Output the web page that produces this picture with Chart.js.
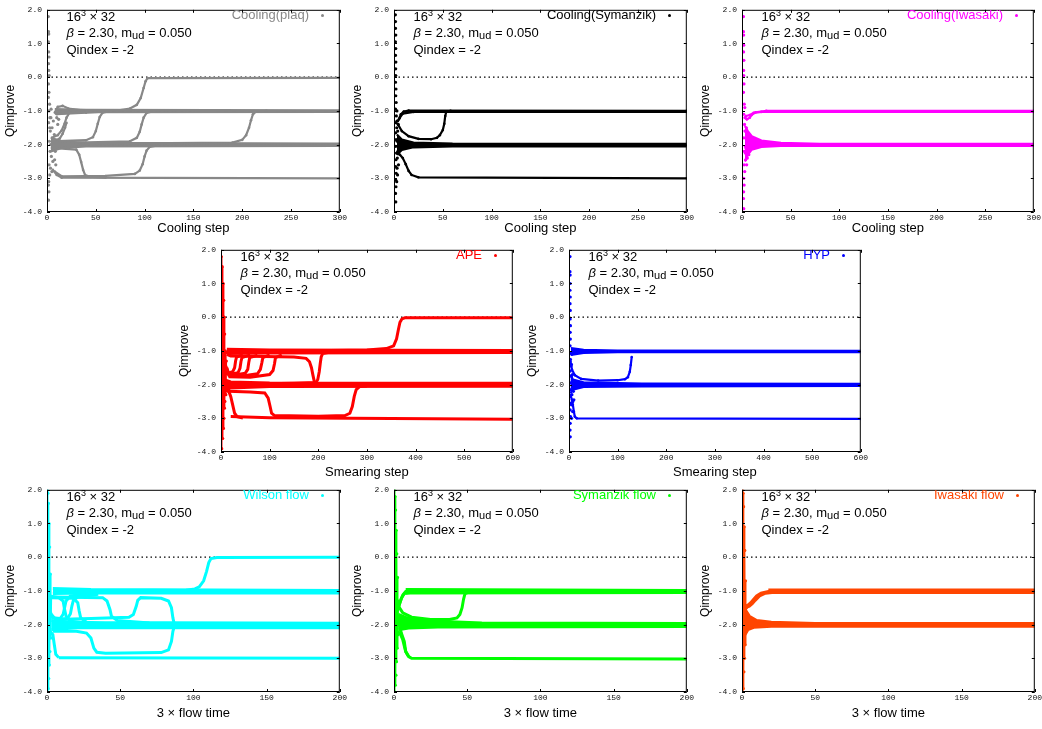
<!DOCTYPE html>
<html>
<head>
<meta charset="utf-8">
<script src="https://cdn.jsdelivr.net/npm/chart.js@4.4.1/dist/chart.umd.min.js"></script>
<style>
body { margin: 0; background: #fff; }
#page { position: relative; width: 1042px; height: 729px; overflow: hidden; font-family: "Liberation Sans", Arial, sans-serif; }
canvas { position: absolute; }
.note { position: absolute; font-size: 13px; line-height: 16.5px; color: #000; white-space: nowrap; }
.note sup { font-size: 9px; line-height: 0; vertical-align: 5px; }
.note sub { font-size: 11px; line-height: 0; vertical-align: -2px; }
.key { position: absolute; font-size: 13px; line-height: 16px; white-space: nowrap; text-align: right; }
.dot { position: absolute; width: 3px; height: 3px; border-radius: 50%; }
</style>
</head>
<body>
<div id="page"></div>
<script>
// tick labels
const yTicks = [-4, -3, -2, -1, 0, 1, 2];
const coolingXTicks = [0, 50, 100, 150, 200, 250, 300];
const smearXTicks = [0, 100, 200, 300, 400, 500, 600];
const flowXTicks = [0, 50, 100, 150, 200];

// Cooling(plaq)
const plaqSpike = [[1.4,1.8],[1.6,1.35],[1.8,1.28],[1.5,1.05],[1.7,0.75],[2.0,0.6],[1.6,0.4],[1.8,0.2],[2.2,0.05],[1.5,-0.2],[2.0,-0.45],[1.4,-0.6],[2.6,-0.8],[2.0,-1.0],[3.0,-1.2],[1.7,-1.35],[3.4,-1.6],[4.0,-1.2],[5.2,-1.5],[6.5,-1.3],[7.5,-1.7],[2.4,-1.9],[3.2,-2.2],[4.5,-2.35],[6.0,-2.5],[7.8,-2.45],[3.6,-2.7],[2.1,-2.6],[2.8,-2.9],[1.8,-3.1],[1.5,-3.2],[2.0,-3.4],[1.6,-3.65],[9.0,-2.6],[10,-1.2],[11,-1.4],[5.0,-2.8],[8.5,-2.2],[12,-1.25],[4.2,-0.95],[2.8,-1.5],[3.8,-2.0]];
const plaqBands = [
  [[[4,-1.8],[15,-1.9],[40,-1.95],[300,-1.97]], [[4,-2.2],[15,-2.1],[40,-2.05],[300,-2.04]]],
  [[[8,-0.95],[40,-0.97],[300,-0.98]], [[8,-1.08],[40,-1.04],[300,-1.03]]]
];
const plaqPaths = [
  [[6,-2.75],[10,-2.9],[15,-2.98],[300,-3.0]],
  [[8,-1.05],[11,-0.88],[16,-0.85],[22,-0.93],[40,-1.0]],
  [[10,-1.1],[40,-1.05],[70,-1.0],[85,-0.93],[92,-0.82],[96,-0.62],[99,-0.32],[101,-0.12],[103,-0.03],[300,-0.02]],
  [[5,-1.9],[40,-1.87],[47,-1.78],[50,-1.6],[52,-1.38],[54,-1.18],[57,-1.05],[65,-1.0]],
  [[20,-1.95],[85,-1.9],[92,-1.8],[95,-1.62],[97,-1.4],[99,-1.2],[102,-1.06],[110,-1.0]],
  [[30,-1.98],[190,-1.94],[200,-1.86],[204,-1.72],[207,-1.5],[209,-1.28],[211,-1.1],[214,-1.02],[225,-1.0]],
  [[5,-2.1],[30,-2.15],[33,-2.3],[35,-2.52],[37,-2.75],[39,-2.9],[45,-2.96],[60,-2.98]],
  [[8,-2.8],[15,-2.94],[60,-2.93],[90,-2.87],[95,-2.77],[98,-2.58],[100,-2.35],[102,-2.18],[105,-2.07],[115,-2.02]],
  [[5,-1.8],[11,-1.72],[15,-1.58],[18,-1.38],[20,-1.2],[23,-1.05]],
  [[7,-1.9],[13,-1.82],[16,-1.68],[18.5,-1.5],[20,-1.35]]
];

// Cooling(Symanzik)
const symSpike = [[1.4,1.85],[1.5,1.65],[1.6,1.45],[1.8,1.25],[1.5,1.05],[1.8,0.85],[1.6,0.65],[1.9,0.45],[1.7,0.25],[1.8,0.05],[1.6,-0.15],[2.0,-0.35],[1.8,-0.55],[2.2,-0.75],[1.6,-0.95],[2.4,-1.15],[2.0,-1.35],[2.8,-1.5],[1.7,-1.65],[2.2,-1.85],[1.8,-2.05],[2.6,-2.25],[2.0,-2.45],[1.7,-2.65],[2.2,-2.85],[1.8,-3.05],[2.0,-3.25],[1.6,-3.45],[1.8,-3.7],[3.0,-1.3],[3.4,-2.4],[3.8,-1.6],[3.1,-2.7],[4.0,-2.2],[3.0,-1.0],[3.6,-2.9],[2.8,-3.1],[3.2,-1.9],[4.4,-1.4],[4.6,-2.6]];
const symBands = [
  [[[3,-1.7],[8,-1.85],[20,-1.94],[60,-1.97],[300,-1.98]], [[3,-2.3],[8,-2.16],[20,-2.08],[60,-2.05],[300,-2.05]]]
];
const symPaths = [
  [[5,-1.25],[7,-1.1],[10,-1.02],[15,-0.99],[300,-1.0]],
  [[4,-1.3],[6,-1.2],[9,-1.08],[20,-1.03],[300,-1.03]],
  [[4,-1.4],[8,-1.6],[15,-1.75],[25,-1.83],[38,-1.84],[44,-1.8],[47,-1.72],[50,-1.57],[51.5,-1.38],[52.5,-1.15],[53.5,-1.03],[58,-1.0]],
  [[3,-2.25],[6,-2.3],[9,-2.4],[12,-2.58],[15,-2.78],[18,-2.9],[25,-2.97],[300,-3.0]]
];

// Cooling(Iwasaki)
const iwaSpike = [[1.5,1.8],[1.5,1.35],[1.7,1.25],[1.8,0.95],[1.6,0.75],[1.9,0.5],[1.7,0.2],[1.8,0.05],[2.0,-0.2],[1.6,-0.45],[2.3,-0.8],[1.8,-1.1],[2.6,-1.4],[3.0,-1.6],[2.0,-1.8],[3.4,-2.25],[3.8,-2.45],[2.2,-2.6],[2.8,-2.8],[1.8,-3.0],[2.2,-3.2],[1.7,-3.4],[1.6,-3.6],[1.8,-3.9],[4.0,-2.1],[4.5,-1.5],[5.5,-2.4],[6,-1.9],[7,-2.3],[3.2,-1.2],[4.8,-2.6],[3.6,-2.05],[2.4,-2.2],[2.9,-0.9],[5.0,-1.75]];
const iwaBands = [
  [[[3,-1.45],[6,-1.6],[10,-1.75],[20,-1.88],[40,-1.95],[80,-1.98],[300,-1.98]], [[3,-2.5],[6,-2.3],[10,-2.15],[20,-2.07],[40,-2.04],[300,-2.04]]]
];
const iwaPaths = [
  [[3,-1.2],[5,-1.25],[8,-1.2],[10,-1.12],[14,-1.04],[25,-1.0],[300,-1.0]],
  [[4,-1.15],[8,-1.12],[12,-1.06],[20,-1.03],[300,-1.03]]
];

// APE
const apeSpike = [[0.5,1.8],[1.5,-3.9],[2.5,1.5],[3.5,-3.6],[4.5,1.0],[5,-3.3],[5.5,0.5],[6,-3.0],[6.5,0.0],[7,-2.7],[7.5,-0.5],[8,-2.5],[9,-1.0],[10,-2.3],[11,-1.3]];
const apeBands = [
  [[[5,-1.85],[20,-1.92],[100,-1.95],[600,-1.96]], [[5,-2.2],[20,-2.1],[100,-2.06],[600,-2.05]]],
  [[[12,-0.95],[100,-0.97],[600,-0.99]], [[12,-1.08],[100,-1.06],[600,-1.05]]]
];
const apePaths = [
  [[20,-2.95],[100,-2.98],[600,-3.03]],
  [[10,-1.05],[150,-1.0],[300,-0.97],[340,-0.93],[355,-0.85],[361,-0.64],[365,-0.35],[368,-0.15],[372,-0.05],[378,-0.02],[600,-0.02]],
  [[12,-1.1],[20,-1.15],[60,-1.16],[150,-1.18],[175,-1.22],[182,-1.32],[186,-1.5],[189,-1.72],[192,-1.92],[198,-2.0]],
  [[8,-2.0],[150,-1.96],[195,-1.94],[199,-1.85],[202,-1.62],[204,-1.38],[206,-1.18],[209,-1.08],[220,-1.05]],
  [[6,-1.3],[9,-1.55],[14,-1.66],[24,-1.62],[28,-1.5],[30,-1.3],[32,-1.18],[45,-1.12]],
  [[7,-1.35],[11,-1.62],[18,-1.7],[35,-1.65],[39,-1.52],[41,-1.32],[43,-1.2],[60,-1.12]],
  [[8,-1.4],[13,-1.68],[25,-1.72],[50,-1.66],[55,-1.55],[57,-1.35],[59,-1.2],[75,-1.13]],
  [[10,-1.45],[16,-1.72],[40,-1.75],[75,-1.68],[81,-1.55],[84,-1.35],[86,-1.2],[100,-1.12]],
  [[12,-1.5],[18,-1.77],[60,-1.78],[100,-1.7],[107,-1.58],[110,-1.38],[112,-1.2],[125,-1.12]],
  [[8,-2.15],[15,-2.2],[60,-2.22],[90,-2.25],[97,-2.4],[101,-2.65],[104,-2.85],[110,-2.92],[200,-2.94],[255,-2.92],[265,-2.85],[270,-2.65],[274,-2.35],[278,-2.15],[285,-2.06],[300,-2.04]],
  [[8,-2.15],[16,-2.2],[20,-2.35],[24,-2.6],[28,-2.85],[33,-2.95],[45,-2.99]]
];

// HYP
const hypSpike = [[2.0,1.8],[2.0,1.35],[2.4,1.25],[2.4,1.0],[2.0,0.8],[2.6,0.6],[2.2,0.4],[2.6,0.2],[2.4,-0.05],[3.0,-0.25],[2.4,-0.45],[2.8,-0.65],[2.2,-0.85],[3.6,-1.05],[2.8,-1.25],[4.2,-1.45],[2.6,-1.6],[4.6,-1.75],[3.0,-1.95],[4.0,-2.15],[2.6,-2.35],[3.8,-2.55],[2.4,-2.75],[3.2,-2.95],[2.4,-3.15],[2.2,-3.35],[2.6,-3.55],[5,-1.4],[6,-2.3],[7,-1.7],[8,-2.5],[9,-2.2],[5.0,-2.6],[5.5,-1.1],[7.5,-2.8],[10,-2.45],[6.5,-1.95],[5.2,-3.0]];
const hypBands = [
  [[[4,-0.92],[30,-0.97],[100,-0.99],[600,-1.0]], [[4,-1.12],[30,-1.06],[100,-1.04],[600,-1.04]]],
  [[[3,-1.7],[8,-1.85],[30,-1.93],[150,-1.97],[600,-1.98]], [[3,-2.25],[8,-2.15],[30,-2.07],[150,-2.05],[600,-2.04]]]
];
const hypPaths = [
  [[3,-1.3],[6,-1.55],[12,-1.72],[25,-1.83],[60,-1.88],[100,-1.87],[115,-1.84],[121,-1.78],[125,-1.62],[127,-1.42],[129,-1.18]],
  [[3,-2.3],[6,-2.45],[8,-2.6],[10,-2.8],[12,-2.95],[16,-3.0],[600,-3.02]]
];

// Wilson flow
const wilSpike = [[0.2,2.0],[0.4,-4.0],[0.6,1.9],[0.8,-3.9],[1.0,1.6],[1.2,-3.6],[1.4,1.0],[1.6,-3.2],[1.8,0.3],[2.0,-2.8],[2.3,-0.5],[2.6,-2.4],[3,-1.2]];
const wilBands = [
  [[[4,-0.93],[30,-0.96],[200,-0.99]], [[4,-1.08],[30,-1.06],[200,-1.06]]],
  [[[3,-1.88],[20,-1.94],[200,-1.96]], [[3,-2.15],[20,-2.09],[200,-2.09]]]
];
const wilPaths = [
  [[8,-2.98],[200,-3.0]],
  [[2,-2.2],[4,-2.3],[5,-2.6],[6,-2.88],[8,-2.98]],
  [[5,-1.05],[60,-1.03],[95,-0.98],[101,-0.94],[104,-0.88],[107,-0.7],[109,-0.42],[110.5,-0.16],[112,-0.04],[116,-0.01],[200,0.0]],
  [[2,-1.15],[8,-1.2],[11,-1.3],[12,-1.55],[13,-1.75],[16,-1.9],[30,-1.96]],
  [[2,-1.6],[4,-1.8],[9,-1.82],[11,-1.7],[12,-1.5],[13,-1.3],[16,-1.15],[30,-1.08]],
  [[3,-1.2],[18,-1.22],[21,-1.35],[22,-1.6],[23,-1.8],[27,-1.93],[40,-1.97]],
  [[3,-1.7],[6,-1.85],[14,-1.82],[16,-1.68],[17,-1.45],[18,-1.28],[21,-1.18],[35,-1.1]],
  [[4,-1.18],[38,-1.2],[41,-1.3],[43,-1.55],[44,-1.75],[48,-1.88],[70,-1.95]],
  [[5,-1.85],[30,-1.82],[56,-1.78],[59,-1.7],[61,-1.45],[62,-1.28],[64,-1.2],[78,-1.22],[83,-1.3],[85,-1.5],[86,-1.8],[87,-2.0],[92,-2.05]],
  [[4,-2.2],[20,-2.2],[27,-2.25],[30,-2.4],[32,-2.7],[34,-2.82],[40,-2.85],[78,-2.83],[83,-2.75],[85,-2.5],[86,-2.2],[87,-2.05],[92,-2.05]]
];

// Symanzik flow
const symfSpike = [[0.3,2.0],[0.5,-4.0],[0.7,1.8],[0.9,-3.8],[1.1,1.4],[1.3,-3.5],[1.5,0.8],[1.7,-3.1],[1.9,0.1],[2.1,-2.7],[2.4,-0.6],[2.7,-2.3],[3,-1.3]];
const symfBands = [
  [[[3,-1.7],[10,-1.82],[30,-1.9],[60,-1.95],[200,-1.97]], [[3,-2.15],[10,-2.1],[30,-2.07],[200,-2.06]]],
  [[[8,-0.96],[200,-0.99]], [[8,-1.06],[200,-1.05]]]
];
const symfPaths = [
  [[2,-1.6],[4,-1.35],[6,-1.12],[8,-1.02],[15,-1.0]],
  [[3,-1.5],[5,-1.22],[7,-1.08],[12,-1.04]],
  [[3,-1.45],[6,-1.65],[12,-1.78],[25,-1.85],[38,-1.85],[43,-1.8],[45,-1.7],[46.5,-1.5],[47.5,-1.25],[48.5,-1.08],[52,-1.02]],
  [[1,-1.5],[3,-1.9],[5,-2.25],[7,-2.5],[8,-2.8],[10,-2.95],[12,-3.0],[200,-3.02]],
  [[2,-2.2],[4,-2.25],[6,-2.45],[8,-2.8],[10,-2.95]]
];

// Iwasaki flow
const iwfSpike = [[0.3,2.0],[0.5,-4.0],[0.7,1.9],[0.9,-3.9],[1.1,1.5],[1.3,-3.4],[1.5,0.9],[1.7,-3.0],[1.9,0.2],[2.1,-2.6],[2.4,-0.7],[2.7,-2.2],[3,-1.5]];
const iwfBands = [
  [[[2,-1.55],[5,-1.75],[10,-1.88],[20,-1.93],[50,-1.97],[200,-1.97]], [[2,-2.3],[4,-2.15],[8,-2.08],[20,-2.05],[200,-2.05]]],
  [[[18,-0.97],[200,-0.97]], [[18,-1.05],[200,-1.05]]]
];
const iwfPaths = [
  [[2,-1.45],[4,-1.42],[6,-1.35],[8,-1.25],[10,-1.15],[13,-1.07],[18,-1.02],[25,-1.0],[200,-1.0]],
  [[2,-1.5],[5,-1.45],[7,-1.38],[9,-1.28],[12,-1.15],[16,-1.07],[22,-1.04]]
];

// panel layout (plot-area edges in page pixels)
const panels = [
  { left: 47, top: 7, right: 340, bottom: 212, xMax: 300, xTicks: coolingXTicks, xTitle: 'Cooling step', xh: 24, color: '#888888', label: 'Cooling(plaq)', spike: plaqSpike, spikeLine: false, bands: plaqBands, paths: plaqPaths, lw: 2.2, pr: 1.3 },
  { left: 394, top: 7, right: 687, bottom: 212, xMax: 300, xTicks: coolingXTicks, xTitle: 'Cooling step', xh: 24, color: '#000000', label: 'Cooling(Symanzik)', spike: symSpike, spikeLine: false, bands: symBands, paths: symPaths, lw: 2.2, pr: 1.3 },
  { left: 742, top: 7, right: 1034, bottom: 212, xMax: 300, xTicks: coolingXTicks, xTitle: 'Cooling step', xh: 24, color: '#ff00ff', label: 'Cooling(Iwasaki)', spike: iwaSpike, spikeLine: false, bands: iwaBands, paths: iwaPaths, lw: 2.2, pr: 1.3 },
  { left: 221, top: 247, right: 513, bottom: 452, xMax: 600, xTicks: smearXTicks, xTitle: 'Smearing step', xh: 28, color: '#ff0000', label: 'APE', spike: apeSpike, spikeLine: true, bands: apeBands, paths: apePaths, lw: 3, pr: 0 },
  { left: 569, top: 247, right: 861, bottom: 452, xMax: 600, xTicks: smearXTicks, xTitle: 'Smearing step', xh: 28, color: '#0000ff', label: 'HYP', spike: hypSpike, spikeLine: false, bands: hypBands, paths: hypPaths, lw: 2.2, pr: 1.3 },
  { left: 47, top: 487, right: 340, bottom: 692, xMax: 200, xTicks: flowXTicks, xTitle: '3 \u00d7 flow time', xh: 29, color: '#00ffff', label: 'Wilson flow', spike: wilSpike, spikeLine: true, bands: wilBands, paths: wilPaths, lw: 3, pr: 0 },
  { left: 394, top: 487, right: 687, bottom: 692, xMax: 200, xTicks: flowXTicks, xTitle: '3 \u00d7 flow time', xh: 29, color: '#00ff00', label: 'Symanzik flow', spike: symfSpike, spikeLine: true, bands: symfBands, paths: symfPaths, lw: 3, pr: 0 },
  { left: 742, top: 487, right: 1035, bottom: 692, xMax: 200, xTicks: flowXTicks, xTitle: '3 \u00d7 flow time', xh: 29, color: '#ff4500', label: 'Iwasaki flow', spike: iwfSpike, spikeLine: true, bands: iwfBands, paths: iwfPaths, lw: 3, pr: 0 }
];

// gnuplot-like frame with inward ticks
const framePlugin = {
  id: 'frame',
  afterDatasetsDraw(chart) {
    const { ctx, chartArea: a, scales: { x, y } } = chart;
    ctx.save();
    ctx.strokeStyle = '#000';
    ctx.lineWidth = 1;
    ctx.strokeRect(a.left + 0.5, a.top + 0.5, a.right - a.left - 1, a.bottom - a.top - 1);
    ctx.beginPath();
    y.ticks.forEach(t => {
      const py = Math.round(y.getPixelForValue(t.value)) + 0.5;
      ctx.moveTo(a.left, py); ctx.lineTo(a.left + 3, py);
      ctx.moveTo(a.right, py); ctx.lineTo(a.right - 3, py);
    });
    x.ticks.forEach(t => {
      const px = Math.round(x.getPixelForValue(t.value)) + 0.5;
      ctx.moveTo(px, a.bottom); ctx.lineTo(px, a.bottom - 3);
      ctx.moveTo(px, a.top); ctx.lineTo(px, a.top + 3);
    });
    ctx.stroke();
    ctx.restore();
  }
};

const tickFont = { family: 'Liberation Mono', size: 8 };

function drawPanel(p) {
  const page = document.getElementById('page');
  const canvas = document.createElement('canvas');
  canvas.width = p.right - p.left + 47 + 8;
  canvas.height = 7 + (p.bottom - p.top) + p.xh;
  canvas.style.left = (p.left - 47) + 'px';
  canvas.style.top = (p.top - 7) + 'px';
  page.appendChild(canvas);

  const datasets = [];
  datasets.push({ data: [[0, 0], [p.xMax, 0]], borderColor: '#000', borderWidth: 1.2, borderDash: [1.5, 3], pointRadius: 0, order: 1 });
  p.bands.forEach(b => {
    datasets.push({ data: b[0], borderColor: p.color, borderWidth: p.lw, pointRadius: 0, fill: false });
    datasets.push({ data: b[1], borderColor: p.color, backgroundColor: p.color, borderWidth: p.lw, pointRadius: 0, fill: '-1' });
  });
  p.paths.forEach(d => {
    datasets.push({ data: d, borderColor: p.color, backgroundColor: p.color, borderWidth: p.lw, pointRadius: p.pr, pointBorderWidth: 0, fill: false });
  });
  datasets.push({ data: p.spike, showLine: p.spikeLine, borderColor: p.color, backgroundColor: p.color, borderWidth: 1.5, pointRadius: 1.6, pointBorderWidth: 0, fill: false });

  new Chart(canvas, {
    type: 'line',
    data: { datasets },
    options: {
      responsive: false,
      animation: false,
      devicePixelRatio: 1,
      layout: { padding: { left: 0, right: 8, top: 7, bottom: 0 } },
      elements: { line: { tension: 0 } },
      plugins: { legend: { display: false }, tooltip: { enabled: false } },
      scales: {
        x: {
          type: 'linear', min: 0, max: p.xMax,
          grid: { display: false, drawTicks: false },
          border: { display: false },
          afterBuildTicks: s => { s.ticks = p.xTicks.map(v => ({ value: v })); },
          afterFit: s => { s.height = p.xh; },
          ticks: { padding: 1, maxRotation: 0, autoSkip: false, color: '#111', font: tickFont, callback: v => String(v) },
          title: { display: true, text: p.xTitle, color: '#000', padding: { top: 0, bottom: 0 }, font: { family: 'Liberation Sans', size: 13, lineHeight: 1.2 } }
        },
        y: {
          type: 'linear', min: -4, max: 2,
          grid: { display: false, drawTicks: false },
          border: { display: false },
          afterBuildTicks: s => { s.ticks = yTicks.map(v => ({ value: v })); },
          afterFit: s => { s.width = 47; },
          ticks: { padding: 5, autoSkip: false, color: '#111', font: tickFont, callback: v => v.toFixed(1) },
          title: { display: true, text: 'Qimprove', color: '#000', padding: { top: 3, bottom: 0 }, font: { family: 'Liberation Sans', size: 12, lineHeight: 1.2 } }
        }
      }
    },
    plugins: [framePlugin]
  });

  const note = document.createElement('div');
  note.className = 'note';
  note.style.left = (p.left + 19.5) + 'px';
  note.style.top = (p.top + 1.75) + 'px';
  note.innerHTML = '16<sup>3</sup> \u00d7 32<br><i>\u03b2</i> = 2.30, m<sub>ud</sub> = 0.050<br>Qindex = -2';
  page.appendChild(note);

  const key = document.createElement('div');
  key.className = 'key';
  key.style.right = (1042 - (p.right - 31)) + 'px';
  key.style.top = p.top + 'px';
  key.style.color = p.color;
  key.textContent = p.label;
  page.appendChild(key);

  const dot = document.createElement('div');
  dot.className = 'dot';
  dot.style.left = (p.right - 19.5) + 'px';
  dot.style.top = (p.top + 6.5) + 'px';
  dot.style.background = p.color;
  page.appendChild(dot);
}

panels.forEach(drawPanel);
</script>
</body>
</html>
